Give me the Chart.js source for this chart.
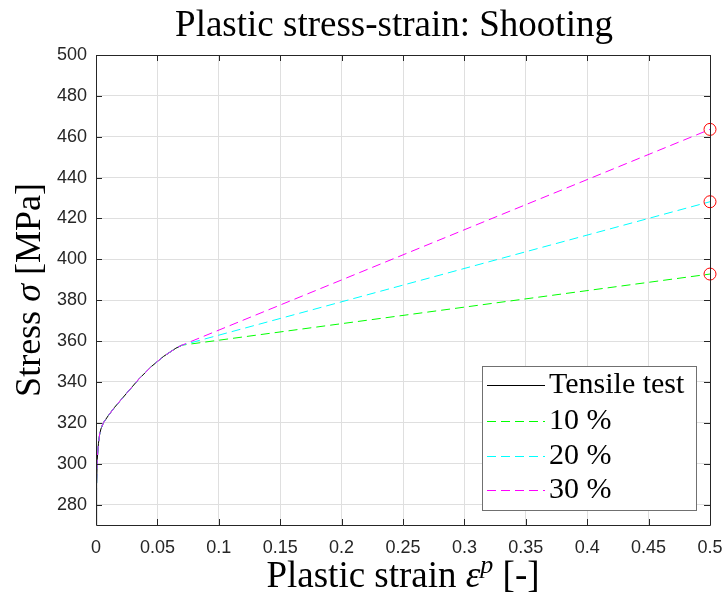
<!DOCTYPE html>
<html>
<head>
<meta charset="utf-8">
<script src="https://cdn.jsdelivr.net/npm/chart.js@4.4.1/dist/chart.umd.min.js"></script>
<style>
  html, body { margin: 0; padding: 0; background: #fff; }
  #wrap { width: 723px; height: 595px; }
</style>
</head>
<body>
<div id="wrap"><canvas id="c" width="723" height="595"></canvas></div>
<script>
// tensile test curve (plastic strain, stress in MPa)
const strain = [0, 0.0005, 0.001, 0.002, 0.003, 0.004, 0.006, 0.01, 0.015, 0.02, 0.025,
                0.03, 0.035, 0.04, 0.045, 0.05, 0.055, 0.06, 0.065, 0.07];
const stress = [270, 290, 302, 310, 314.5, 317, 320, 323.5, 327.5, 331, 334.5,
                338, 341.5, 344.5, 347.5, 350, 352.5, 354.5, 356.5, 358];

// shooting extrapolation, end point at eps = 0.5
const shootLabels = ['10 %', '20 %', '30 %'];
const shootColors = ['#00ff00', '#00ffff', '#ff00ff'];
const endStrain = 0.5;
const endStress = [392.8, 428.2, 463.6];

const xTicks = [0, 0.05, 0.1, 0.15, 0.2, 0.25, 0.3, 0.35, 0.4, 0.45, 0.5];
const xTickLabels = ['0', '0.05', '0.1', '0.15', '0.2', '0.25', '0.3', '0.35', '0.4', '0.45', '0.5'];
const yTicks = [280, 300, 320, 340, 360, 380, 400, 420, 440, 460, 480, 500];

const serif = '"Liberation Serif", "Times New Roman", serif';
const ink = '#262626';

const tensilePts = strain.map((x, i) => ({x: x, y: stress[i]}));

const datasets = [];
datasets.push({
    label: 'Tensile test',
    data: tensilePts,
    borderColor: '#000000',
    borderWidth: 1,
    pointRadius: 0,
    fill: false,
    order: 10
});
shootLabels.forEach((lab, k) => {
    datasets.push({
        label: lab,
        data: tensilePts.concat([{x: endStrain, y: endStress[k]}]),
        borderColor: shootColors[k],
        borderWidth: 1,
        borderDash: [9, 5],
        pointRadius: 0,
        fill: false,
        order: 9 - k
    });
});
// end markers
datasets.push({
    label: 'end',
    data: endStress.map(v => ({x: endStrain, y: v})),
    showLine: false,
    pointRadius: 6,
    pointBorderColor: '#ff0000',
    pointBackgroundColor: 'rgba(0,0,0,0)',
    pointBorderWidth: 1,
    order: 0,
    clip: false
});

// draws a sequence of text pieces with different fonts centred on cx
function drawRuns(ctx, runs, cx, y) {
    let total = 0;
    runs.forEach(r => { ctx.font = r.font; r.w = ctx.measureText(r.text).width; total += r.w; });
    let x = cx - total / 2;
    ctx.textAlign = 'left';
    ctx.textBaseline = 'alphabetic';
    runs.forEach(r => {
        ctx.font = r.font;
        ctx.fillText(r.text, x, y + (r.dy || 0));
        x += r.w;
    });
}

const decor = {
    id: 'decor',
    afterDatasetsDraw(chart) {
        const ctx = chart.ctx;
        const a = chart.chartArea;
        const xs = chart.scales.x, ys = chart.scales.y;
        ctx.save();

        // axes box with inward ticks
        ctx.strokeStyle = ink;
        ctx.lineWidth = 1;
        ctx.beginPath();
        ctx.rect(Math.round(a.left) + 0.5, Math.round(a.top) + 0.5,
                 Math.round(a.right - a.left), Math.round(a.bottom - a.top));
        const tl = 6;
        xTicks.forEach(v => {
            const px = Math.round(xs.getPixelForValue(v)) + 0.5;
            ctx.moveTo(px, a.bottom); ctx.lineTo(px, a.bottom - tl);
            ctx.moveTo(px, a.top); ctx.lineTo(px, a.top + tl);
        });
        yTicks.forEach(v => {
            const py = Math.round(ys.getPixelForValue(v)) + 0.5;
            ctx.moveTo(a.left, py); ctx.lineTo(a.left + tl, py);
            ctx.moveTo(a.right, py); ctx.lineTo(a.right - tl, py);
        });
        ctx.stroke();

        // legend
        const lx = 482, ly = 366, lw = 214, lh = 144;
        ctx.fillStyle = '#ffffff';
        ctx.fillRect(lx, ly, lw, lh);
        ctx.strokeStyle = '#707070';
        ctx.strokeRect(lx + 0.5, ly + 0.5, lw, lh);
        const rows = [385, 421, 456, 490];
        chart.data.datasets.slice(0, 4).forEach((ds, i) => {
            const ry = rows[i] + 0.5;
            ctx.strokeStyle = ds.borderColor;
            ctx.setLineDash(ds.borderDash || []);
            ctx.beginPath();
            ctx.moveTo(487, ry); ctx.lineTo(545, ry);
            ctx.stroke();
            ctx.setLineDash([]);
            ctx.fillStyle = '#000';
            ctx.font = '30px ' + serif;
            ctx.textAlign = 'left';
            ctx.textBaseline = 'alphabetic';
            ctx.fillText(ds.label, 549, rows[i] + 8);
        });

        // title
        ctx.fillStyle = '#000';
        drawRuns(ctx, [{text: 'Plastic stress-strain: Shooting', font: '37px ' + serif}], 394, 36);

        // x label
        drawRuns(ctx, [
            {text: 'Plastic strain ', font: '37px ' + serif},
            {text: 'ε', font: 'italic 37px ' + serif},
            {text: 'p', font: 'italic 26px ' + serif, dy: -14},
            {text: ' [-]', font: '37px ' + serif}
        ], (a.left + a.right) / 2, 587);

        // y label
        ctx.translate(40, (a.top + a.bottom) / 2);
        ctx.rotate(-Math.PI / 2);
        drawRuns(ctx, [
            {text: 'Stress ', font: '36px ' + serif},
            {text: 'σ', font: 'italic 36px ' + serif},
            {text: ' [MPa]', font: '36px ' + serif}
        ], 0, 0);
        ctx.restore();
    }
};

new Chart(document.getElementById('c').getContext('2d'), {
    type: 'line',
    data: {datasets: datasets},
    options: {
        responsive: false,
        animation: false,
        layout: {padding: {top: 55, right: 13, bottom: 0, left: 0}},
        plugins: {legend: {display: false}, tooltip: {enabled: false}},
        elements: {line: {tension: 0}},
        scales: {
            x: {
                type: 'linear',
                min: 0,
                max: 0.5,
                afterBuildTicks: s => { s.ticks = xTicks.map(v => ({value: v})); },
                afterFit: s => { s.height = 70; s.paddingLeft = 0; s.paddingRight = 0; },
                grid: {color: '#dfdfdf', drawTicks: false},
                border: {display: false},
                ticks: {
                    padding: 12,
                    color: ink,
                    font: {family: 'Liberation Sans', size: 18},
                    callback: (v, i) => xTickLabels[i]
                }
            },
            y: {
                type: 'linear',
                min: 270,
                max: 500,
                afterBuildTicks: s => { s.ticks = yTicks.map(v => ({value: v})); },
                afterFit: s => { s.width = 96; s.paddingTop = 0; s.paddingBottom = 0; },
                grid: {color: '#dfdfdf', drawTicks: false},
                border: {display: false},
                ticks: {
                    padding: 9,
                    color: ink,
                    font: {family: 'Liberation Sans', size: 18},
                    callback: v => String(v)
                }
            }
        }
    },
    plugins: [decor]
});
</script>
</body>
</html>
